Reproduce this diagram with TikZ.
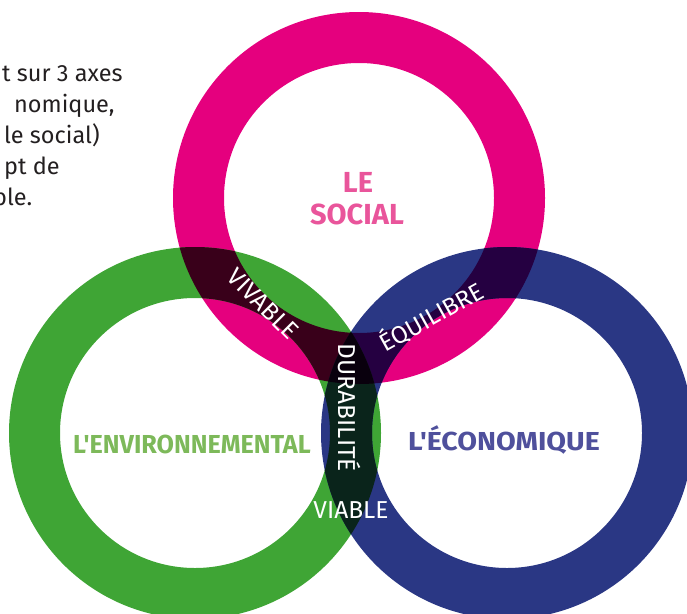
\documentclass[tikz,border=0pt]{standalone}
\usepackage{fontspec}
% straight apostrophes in the titles: no TeX ligature mapping
\setmainfont{Fira Sans}[Ligatures=TeXOff]
\definecolor{socialring}{HTML}{E5007E}
\definecolor{envring}{HTML}{3FA535}
\definecolor{ecoring}{HTML}{2A3784}
% overlaps: product of the two (or three) ring colours
\definecolor{socenv}{HTML}{39001A}
\definecolor{soceco}{HTML}{250041}
\definecolor{enveco}{HTML}{0A241B}
\definecolor{allthree}{HTML}{09000D}
\definecolor{socialtext}{HTML}{E9559B}
\definecolor{envtext}{HTML}{7DB95A}
\definecolor{ecotext}{HTML}{4F509C}
\definecolor{bodytext}{HTML}{231F20}
\tikzset{
  pillar/.style={font=\fontsize{29}{32}\selectfont\bfseries, anchor=base, inner sep=0pt},
  overlaplabel/.style={font=\fontsize{24.5}{26}\selectfont, text=white, inner sep=0pt},
  bodyline/.style={font=\fontsize{23.5}{26}\selectfont, text=bodytext, anchor=base west, inner sep=0pt},
}
\newcommand{\ringat}[1]{(#1) circle[radius=186] (#1) circle[radius=135]}
\begin{document}
\begin{tikzpicture}[x=1pt,y=-1pt]
\useasboundingbox (0,0) rectangle (687,613);
\coordinate (S) at (359,198);
\coordinate (E) at (195,433);
\coordinate (C) at (507,433);

\begin{scope}[even odd rule]
  % the three rings
  \fill[socialring] \ringat{S};
  \fill[envring] \ringat{E};
  \fill[ecoring] \ringat{C};
  % pairwise overlaps
  \begin{scope}
    \clip \ringat{S};
    \fill[socenv] \ringat{E};
    \fill[soceco] \ringat{C};
  \end{scope}
  \begin{scope}
    \clip \ringat{E};
    \fill[enveco] \ringat{C};
  \end{scope}
  % common part of all three rings
  \begin{scope}
    \clip \ringat{S};
    \clip \ringat{E};
    \fill[allthree] \ringat{C};
  \end{scope}
\end{scope}

% introductory text
\node[bodyline] (t1) at (2,81) {t sur 3 axes};
\node[bodyline] (t2) at (14,112) {nomique,};
\node[bodyline] (t3) at (4,143) {le social)};
\node[bodyline] (t4) at (4,174) {pt de};
\node[bodyline] (t5) at (-7,205) {ble.};

% ring titles
\node[pillar, text=socialtext] (le) at (358,192) {LE};
\node[pillar, text=socialtext] (social) at (357,224) {SOCIAL};
\node[pillar, text=envtext, font=\fontsize{26}{28}\selectfont\bfseries] (env) at (192,453) {\scalebox{0.97}[1]{L'ENVIRONNEMENTAL}};
\node[pillar, text=ecotext, font=\fontsize{26}{28}\selectfont\bfseries] (eco) at (504,450) {\scalebox{1.1}[1]{L'ÉCONOMIQUE}};

% overlap labels
\node[overlaplabel, rotate=-45] (vivable) at (263,304) {VIVABLE};
\node[overlaplabel, rotate=29] (equilibre) at (431,316) {ÉQUILIBRE};
\node[overlaplabel, rotate=-90] (durabilite) at (350,408) {DURABILITÉ};
\node[overlaplabel] (viable) at (351,510) {VIABLE};
\end{tikzpicture}
\end{document}
